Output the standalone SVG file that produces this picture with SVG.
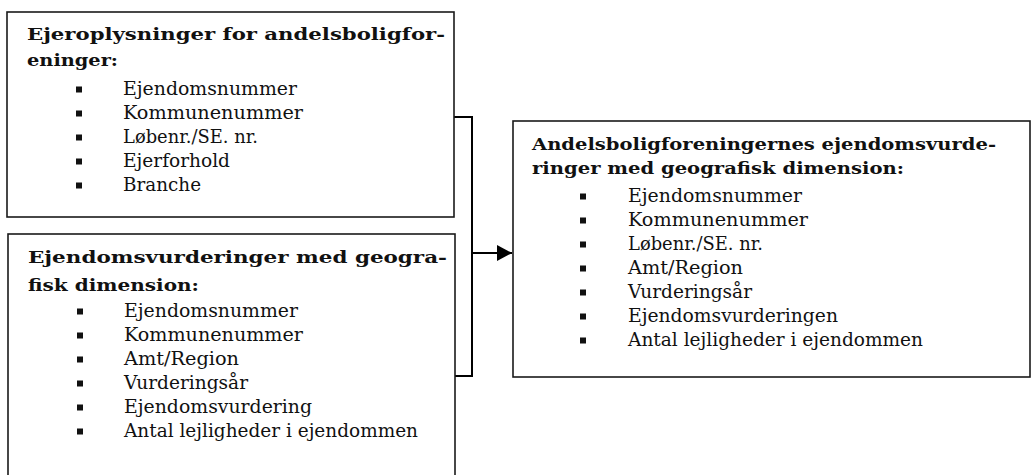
<svg xmlns="http://www.w3.org/2000/svg" width="1031" height="475" viewBox="0 0 1031 475">
<style>
.box{fill:#fff;stroke:#1a1a1a;stroke-width:1.6}
.t{font-family:"DejaVu Serif","Liberation Serif",serif;font-size:17.5px;font-weight:bold;fill:#111}
.i{font-family:"DejaVu Serif","Liberation Serif",serif;font-size:19px;fill:#111}
.b{fill:#111}
.c{fill:none;stroke:#000;stroke-width:2}
</style>
<defs>
<marker id="arr" markerWidth="16" markerHeight="16" refX="15" refY="8" orient="auto" markerUnits="userSpaceOnUse">
<path d="M0,0 L15,8 L0,16 Z" fill="#000"/>
</marker>
</defs>
<rect width="1031" height="475" fill="#fff"/>
<g id="connectors">
<polyline class="c" points="454,117 472,117 472,376 455,376"/>
<line class="c" x1="472" y1="253" x2="512" y2="253" marker-end="url(#arr)"/>
</g>
<g id="node-ejeroplysninger">
<rect class="box" x="7" y="12" width="447" height="205"/>
<text class="t" x="27" y="40" textLength="418" lengthAdjust="spacingAndGlyphs">Ejeroplysninger for andelsboligfor-</text>
<text class="t" x="27" y="66" textLength="91" lengthAdjust="spacingAndGlyphs">eninger:</text>
<rect class="b" x="76" y="86.5" width="6" height="6"/>
<text class="i" x="123" y="95" textLength="174" lengthAdjust="spacingAndGlyphs">Ejendomsnummer</text>
<rect class="b" x="76" y="110.5" width="6" height="6"/>
<text class="i" x="123" y="119" textLength="180" lengthAdjust="spacingAndGlyphs">Kommunenummer</text>
<rect class="b" x="76" y="134.5" width="6" height="6"/>
<text class="i" x="123" y="143" textLength="135" lengthAdjust="spacingAndGlyphs">Løbenr./SE. nr.</text>
<rect class="b" x="76" y="158.5" width="6" height="6"/>
<text class="i" x="123" y="167" textLength="107" lengthAdjust="spacingAndGlyphs">Ejerforhold</text>
<rect class="b" x="76" y="182.5" width="6" height="6"/>
<text class="i" x="123" y="191" textLength="78" lengthAdjust="spacingAndGlyphs">Branche</text>
</g>
<g id="node-ejendomsvurderinger">
<rect class="box" x="8" y="234" width="447" height="260"/>
<text class="t" x="28" y="263" textLength="419" lengthAdjust="spacingAndGlyphs">Ejendomsvurderinger med geogra-</text>
<text class="t" x="28" y="291" textLength="171" lengthAdjust="spacingAndGlyphs">fisk dimension:</text>
<rect class="b" x="77" y="308.5" width="6" height="6"/>
<text class="i" x="124" y="317" textLength="174" lengthAdjust="spacingAndGlyphs">Ejendomsnummer</text>
<rect class="b" x="77" y="332.5" width="6" height="6"/>
<text class="i" x="124" y="341" textLength="179" lengthAdjust="spacingAndGlyphs">Kommunenummer</text>
<rect class="b" x="77" y="356.5" width="6" height="6"/>
<text class="i" x="124" y="365" textLength="115" lengthAdjust="spacingAndGlyphs">Amt/Region</text>
<rect class="b" x="77" y="380.5" width="6" height="6"/>
<text class="i" x="124" y="389" textLength="124" lengthAdjust="spacingAndGlyphs">Vurderingsår</text>
<rect class="b" x="77" y="404.5" width="6" height="6"/>
<text class="i" x="124" y="413" textLength="188" lengthAdjust="spacingAndGlyphs">Ejendomsvurdering</text>
<rect class="b" x="77" y="428.5" width="6" height="6"/>
<text class="i" x="124" y="437" textLength="294" lengthAdjust="spacingAndGlyphs">Antal lejligheder i ejendommen</text>
</g>
<g id="node-andelsboligforeningernes">
<rect class="box" x="513" y="121" width="517" height="256"/>
<text class="t" x="532" y="150" textLength="464" lengthAdjust="spacingAndGlyphs">Andelsboligforeningernes ejendomsvurde-</text>
<text class="t" x="532" y="174" textLength="372" lengthAdjust="spacingAndGlyphs">ringer med geografisk dimension:</text>
<rect class="b" x="580" y="193.5" width="6" height="6"/>
<text class="i" x="628" y="202" textLength="174" lengthAdjust="spacingAndGlyphs">Ejendomsnummer</text>
<rect class="b" x="580" y="217.5" width="6" height="6"/>
<text class="i" x="628" y="226" textLength="180" lengthAdjust="spacingAndGlyphs">Kommunenummer</text>
<rect class="b" x="580" y="241.5" width="6" height="6"/>
<text class="i" x="628" y="250" textLength="135" lengthAdjust="spacingAndGlyphs">Løbenr./SE. nr.</text>
<rect class="b" x="580" y="265.5" width="6" height="6"/>
<text class="i" x="628" y="274" textLength="115" lengthAdjust="spacingAndGlyphs">Amt/Region</text>
<rect class="b" x="580" y="289.5" width="6" height="6"/>
<text class="i" x="628" y="298" textLength="124" lengthAdjust="spacingAndGlyphs">Vurderingsår</text>
<rect class="b" x="580" y="313.5" width="6" height="6"/>
<text class="i" x="628" y="322" textLength="210" lengthAdjust="spacingAndGlyphs">Ejendomsvurderingen</text>
<rect class="b" x="580" y="337.5" width="6" height="6"/>
<text class="i" x="628" y="346" textLength="295" lengthAdjust="spacingAndGlyphs">Antal lejligheder i ejendommen</text>
</g>
</svg>
